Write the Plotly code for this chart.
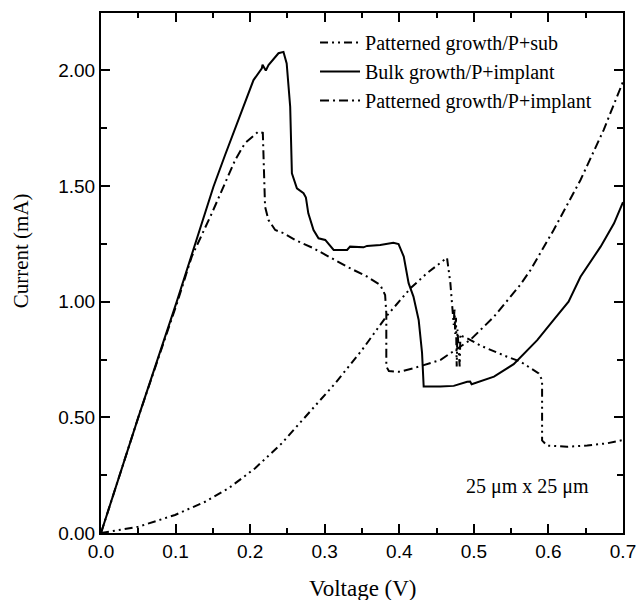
import plotly.graph_objects as go

# Bulk growth / P+ implant (solid)
bulk_v = [0, 0.05, 0.1016, 0.126, 0.1508, 0.1664, 0.189, 0.2045, 0.2157, 0.2166, 0.221, 0.2246,
          0.238, 0.2447, 0.249, 0.2537, 0.256, 0.2627, 0.2716, 0.2748, 0.278, 0.285, 0.2917, 0.3007,
          0.312, 0.33, 0.334, 0.352, 0.3567, 0.3745, 0.392, 0.399, 0.406, 0.4125, 0.419, 0.426,
          0.4305, 0.4327, 0.455, 0.473, 0.491, 0.495, 0.497, 0.509, 0.527, 0.5534, 0.585, 0.607,
          0.627, 0.643, 0.67, 0.688, 0.7]
bulk_i = [0, 0.5, 1.0, 1.245, 1.497, 1.634, 1.829, 1.958, 2.009, 2.024, 1.999, 2.023,
          2.074, 2.08, 2.03, 1.843, 1.555, 1.49, 1.469, 1.45, 1.382, 1.31, 1.274, 1.267,
          1.2235, 1.2235, 1.238, 1.235, 1.241, 1.245, 1.255, 1.249, 1.195, 1.08, 1.022, 0.921,
          0.78, 0.633, 0.633, 0.636, 0.654, 0.655, 0.643, 0.655, 0.676, 0.73, 0.834, 0.921,
          1.0, 1.108, 1.238, 1.339, 1.43]

# Patterned growth / P+ implant (dash-dot)
pimp_v = [0, 0.05, 0.1016, 0.1217, 0.1486, 0.162, 0.18, 0.193, 0.211, 0.217, 0.218, 0.220,
          0.2246, 0.2336, 0.245, 0.26, 0.285, 0.33, 0.357, 0.3745, 0.381, 0.3826, 0.3826, 0.386,
          0.401, 0.419, 0.455, 0.495, 0.527, 0.538, 0.562, 0.576, 0.607, 0.643, 0.674, 0.7]
pimp_i = [0, 0.5, 0.99, 1.195, 1.382, 1.483, 1.613, 1.685, 1.735, 1.73, 1.584, 1.411,
          1.353, 1.31, 1.296, 1.267, 1.231, 1.151, 1.108, 1.072, 1.029, 0.95, 0.72, 0.70,
          0.697, 0.712, 0.748, 0.834, 0.935, 0.978, 1.072, 1.137, 1.31, 1.526, 1.742, 1.951]

# Patterned growth / P+ sub (dash-dot-dot)
psub_v = [0, 0.0188, 0.05, 0.0993, 0.1396, 0.171, 0.2067, 0.2425, 0.283, 0.314, 0.332, 0.35,
          0.3835, 0.415, 0.437, 0.464, 0.4685, 0.472, 0.473, 0.474, 0.475, 0.476, 0.477, 0.478,
          0.480, 0.481, 0.482, 0.485, 0.491, 0.509, 0.5446, 0.5624, 0.587, 0.5915, 0.5915,
          0.598, 0.625, 0.652, 0.679, 0.7]
psub_i = [0, 0.01, 0.027, 0.078, 0.135, 0.193, 0.28, 0.388, 0.532, 0.647, 0.719, 0.791,
          0.94, 1.058, 1.123, 1.19, 1.08, 0.96, 0.90, 0.97, 0.86, 0.93, 0.72, 0.88,
          0.78, 0.72, 0.86, 0.85, 0.842, 0.81, 0.762, 0.741, 0.69, 0.661, 0.40,
          0.378, 0.373, 0.378, 0.388, 0.402]

x_ticks = [0.0, 0.1, 0.2, 0.3, 0.4, 0.5, 0.6, 0.7]
y_ticks = [0.0, 0.5, 1.0, 1.5, 2.0]

serif = "Liberation Serif, Times New Roman, serif"
sans = "Liberation Sans, Arial, sans-serif"

fig = go.Figure()
fig.add_trace(go.Scatter(x=psub_v, y=psub_i, mode="lines", name="Patterned growth/P+sub",
                         line=dict(color="black", width=2, dash="8px,4px,2px,4px,2px,4px")))
fig.add_trace(go.Scatter(x=bulk_v, y=bulk_i, mode="lines", name="Bulk growth/P+implant",
                         line=dict(color="black", width=2)))
fig.add_trace(go.Scatter(x=pimp_v, y=pimp_i, mode="lines", name="Patterned growth/P+implant",
                         line=dict(color="black", width=2, dash="9px,4px,2px,4px")))

fig.add_annotation(x=0.572, y=0.2, text="25 μm x 25 μm", showarrow=False,
                   font=dict(family=serif, size=20, color="black"))
# axis titles
fig.add_annotation(xref="paper", yref="paper", x=0.502, y=-0.106, text="Voltage (V)",
                   showarrow=False, xanchor="center", yanchor="middle",
                   font=dict(family=serif, size=23, color="black"))
fig.add_annotation(xref="paper", yref="paper", x=-0.153, y=0.542, text="Current (mA)",
                   showarrow=False, xanchor="center", yanchor="middle", textangle=-90,
                   font=dict(family=serif, size=21, color="black"))

fig.update_xaxes(range=[0, 0.7], tickmode="array", tickvals=x_ticks, tickformat=".1f",
                 showgrid=False, zeroline=False, showline=True, linecolor="#000000", linewidth=2,
                 mirror="ticks", ticks="inside", ticklen=9, tickwidth=2, tickcolor="#000000",
                 tickfont=dict(family=sans, size=19, color="black"),
                 minor=dict(tickmode="linear", tick0=0, dtick=0.05, ticks="inside", ticklen=5,
                            tickwidth=2, tickcolor="#000000", showgrid=False))
fig.update_yaxes(range=[0, 2.248], tickmode="array", tickvals=y_ticks, tickformat=".2f",
                 showgrid=False, zeroline=False, showline=True, linecolor="#000000", linewidth=2,
                 mirror="ticks", ticks="inside", ticklen=9, tickwidth=2, tickcolor="#000000",
                 tickfont=dict(family=sans, size=19, color="black"),
                 minor=dict(tickmode="linear", tick0=0, dtick=0.25, ticks="inside", ticklen=6,
                            tickwidth=2, tickcolor="#000000", showgrid=False))

fig.update_layout(width=642, height=600, margin=dict(l=101, r=19, t=13, b=67),
                  template="none",
                  plot_bgcolor="white", paper_bgcolor="white",
                  legend=dict(x=0.41, y=0.981, xanchor="left", yanchor="top", bgcolor="rgba(0,0,0,0)",
                              font=dict(family=serif, size=20, color="black"), tracegroupgap=0,
                              itemwidth=40))

fig.write_html("out.html", config={"displayModeBar": False},
               post_script="document.body.style.margin='0px';")
